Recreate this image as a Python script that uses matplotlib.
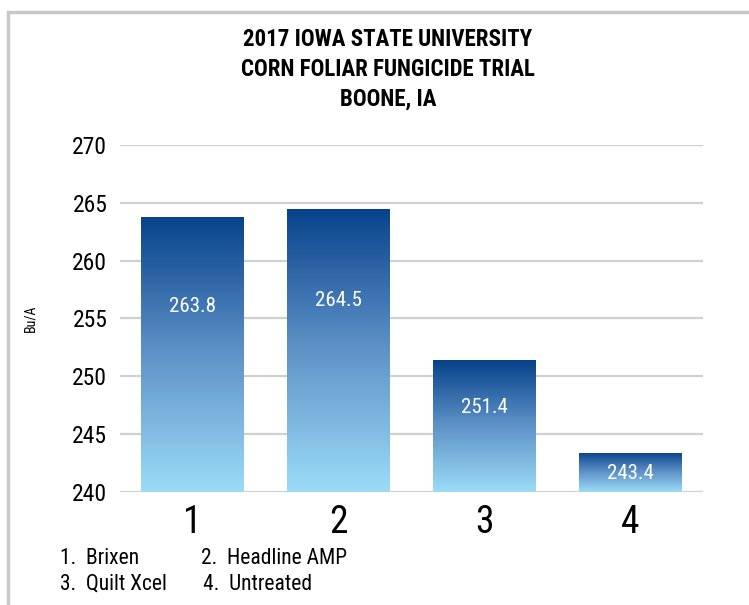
import matplotlib.pyplot as plt
import numpy as np
from matplotlib.colors import LinearSegmentedColormap
from matplotlib.patches import Rectangle

plt.rcParams['font.family'] = ['Roboto Condensed', 'Roboto', 'DejaVu Sans']

# 数据
treatments = ['1', '2', '3', '4']
yields = [263.8, 264.5, 251.4, 243.4]
names = ['1.  Brixen', '2.  Headline AMP', '3.  Quilt Xcel', '4.  Untreated']
title = '2017 IOWA STATE UNIVERSITY\nCORN FOLIAR FUNGICIDE TRIAL\nBOONE, IA'
yticks = [240, 245, 250, 255, 260, 265, 270]

base = 240
cmap = LinearSegmentedColormap.from_list('blu', ['#9bdcf7', '#5f93c8', '#07428b'])

fig = plt.figure(figsize=(7.49, 6.05), dpi=100)
ax = fig.add_axes([0.160, 0.1868, 0.7784, 0.5736])

# 外框（左、上）
fig.patches.append(Rectangle((8 / 749, -0.1), 1.2, 1.1 - 12 / 605, transform=fig.transFigure,
                             fill=False, edgecolor='#c8c8c8', linewidth=2.5))

x = np.arange(1, len(yields) + 1)
bars = ax.bar(x, [v - base for v in yields], bottom=base, width=0.705,
              color='none', edgecolor='none', zorder=2)

grad = np.linspace(0, 1, 256).reshape(-1, 1)
for b, v in zip(bars, yields):
    x0 = b.get_x()
    x1 = x0 + b.get_width()
    im = ax.imshow(grad, extent=[x0, x1, base, v], origin='lower', aspect='auto',
                   cmap=cmap, zorder=2)
    im.set_clip_path(b)
    ax.text(b.get_x() + b.get_width() / 2, base + 0.706 * (v - base) - 0.76, f'{v:.1f}',
            ha='center', va='center', color='white', fontsize=15, zorder=3)

ax.set_xlim(0.5, 4.5)
ax.set_ylim(240, 270)
ax.set_yticks(yticks)
ax.set_xticks(x)
ax.set_xticklabels(treatments, fontsize=27)
ax.tick_params(axis='y', length=0, pad=9, labelsize=17)
ax.tick_params(axis='x', length=0, pad=9)
ax.grid(axis='y', color='#d0d0d0', linewidth=1.6, zorder=0)
ax.set_axisbelow(True)
for s in ax.spines.values():
    s.set_visible(False)

ax.set_ylabel('Bu/A', fontsize=10)
ax.yaxis.set_label_coords(-0.142, 0.5)

fig.text(0.518, 0.953, title, ha='center', va='top', fontsize=16.5, fontweight='bold',
         linespacing=1.36)

fig.text(60 / 749, 1 - 564 / 605, names[0], ha='left', va='baseline', fontsize=15.5)
fig.text(201 / 749, 1 - 564 / 605, names[1], ha='left', va='baseline', fontsize=15.5)
fig.text(60 / 749, 1 - 590 / 605, names[2], ha='left', va='baseline', fontsize=15.5)
fig.text(203 / 749, 1 - 590 / 605, names[3], ha='left', va='baseline', fontsize=15.5)

fig.savefig('out.png', dpi=100)
